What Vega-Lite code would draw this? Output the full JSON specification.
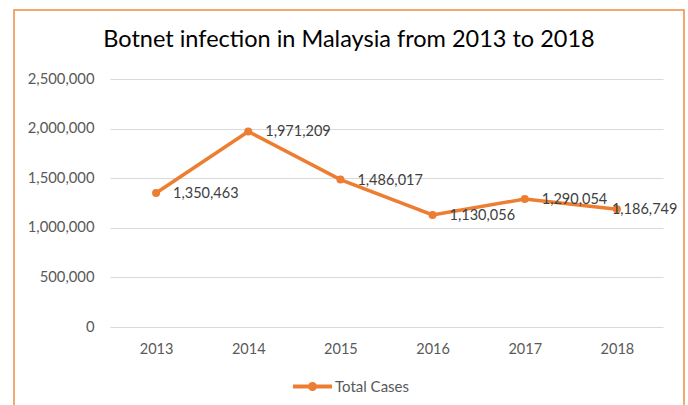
{
  "$schema": "https://vega.github.io/schema/vega-lite/v6.json",
  "width": 670,
  "height": 400,
  "autosize": {"type": "none"},
  "padding": {"left": 14, "top": 10, "right": 4, "bottom": 0},
  "background": "white",
  "config": {
    "view": {"stroke": "#F08A43", "strokeWidth": 1.5},
    "font": "Lato"
  },
  "title": {
    "text": "Botnet infection in Malaysia from 2013 to 2018",
    "fontSize": 23.5,
    "fontWeight": "normal",
    "color": "#000000",
    "font": "Lato",
    "anchor": "middle",
    "frame": "group",
    "baseline": "alphabetic",
    "offset": -60
  },
  "data": {
    "values": [
      {"year": "2013", "cases": 1350463, "series": "Total Cases"},
      {"year": "2014", "cases": 1971209, "series": "Total Cases"},
      {"year": "2015", "cases": 1486017, "series": "Total Cases"},
      {"year": "2016", "cases": 1130056, "series": "Total Cases"},
      {"year": "2017", "cases": 1290054, "series": "Total Cases"},
      {"year": "2018", "cases": 1186749, "series": "Total Cases"}
    ]
  },
  "encoding": {
    "x": {
      "field": "year",
      "type": "ordinal",
      "scale": {"type": "point", "padding": 0.5, "range": [96, 649]},
      "axis": {
        "title": null,
        "offset": -83,
        "domain": false,
        "ticks": false,
        "grid": false,
        "labelAngle": 0,
        "labelBaseline": "middle",
        "labelPadding": 22,
        "labelFontSize": 14.5,
        "labelColor": "#595959",
        "labelFont": "Lato"
      }
    },
    "y": {
      "field": "cases",
      "type": "quantitative",
      "scale": {"domain": [0, 2500000], "range": [317, 69], "nice": false, "zero": true},
      "axis": {
        "title": null,
        "offset": -96,
        "domain": false,
        "ticks": false,
        "grid": true,
        "gridColor": "#D9D9D9",
        "gridWidth": 1,
        "values": [0, 500000, 1000000, 1500000, 2000000, 2500000],
        "format": ",d",
        "labelPadding": 16,
        "labelFontSize": 14.8,
        "labelColor": "#595959",
        "labelFont": "Lato"
      }
    }
  },
  "layer": [
    {
      "mark": {"type": "line", "color": "#ED7D31", "strokeWidth": 3.5}
    },
    {
      "mark": {"type": "point", "filled": true, "opacity": 1, "size": 64},
      "encoding": {
        "color": {
          "field": "series",
          "type": "nominal",
          "scale": {"domain": ["Total Cases"], "range": ["#ED7D31"]},
          "legend": {
            "title": null,
            "orient": "none",
            "legendX": 279,
            "legendY": 357,
            "padding": 0,
            "symbolType": "M-1,-0.1H1V0.1H-1Z M0.23,0A0.23,0.23 0 1,1 -0.23,0A0.23,0.23 0 1,1 0.23,0Z",
            "symbolSize": 1521,
            "symbolStrokeWidth": 0,
            "symbolOpacity": 1,
            "labelFontSize": 15,
            "labelColor": "#595959",
            "labelFont": "Lato",
            "labelOffset": 3
          }
        }
      }
    },
    {
      "transform": [{"filter": "datum.year != '2018'"}],
      "mark": {"type": "text", "align": "left", "baseline": "middle", "dx": 17, "dy": 1, "fontSize": 14.5, "color": "#404040", "font": "Lato"},
      "encoding": {"text": {"field": "cases", "type": "quantitative", "format": ",d"}}
    },
    {
      "transform": [{"filter": "datum.year == '2018'"}],
      "mark": {"type": "text", "align": "left", "baseline": "middle", "dx": -5, "dy": 1, "fontSize": 14.5, "color": "#404040", "font": "Lato"},
      "encoding": {"text": {"field": "cases", "type": "quantitative", "format": ",d"}}
    }
  ]
}
